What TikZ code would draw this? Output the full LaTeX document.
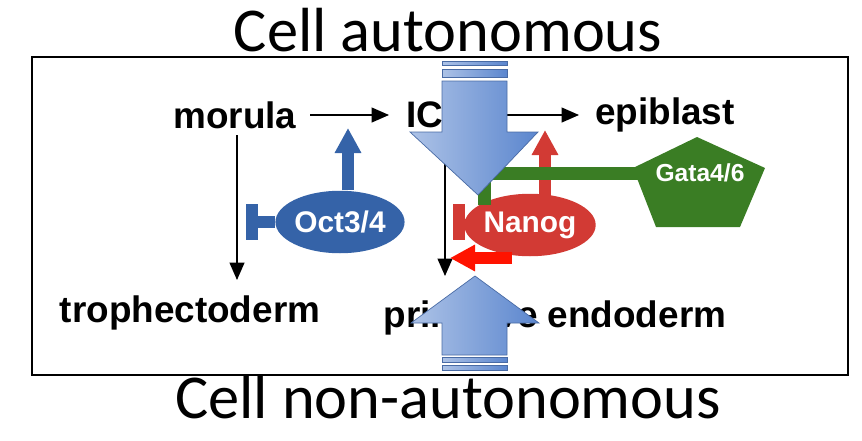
\documentclass[tikz,border=0pt]{standalone}
\usepackage{fontspec}
\setmainfont{Liberation Sans}
\newfontfamily\titlefont{Carlito}
\usetikzlibrary{arrows.meta, positioning, shapes.geometric}
\definecolor{OCTBLUE}{HTML}{3563A8}
\definecolor{NANRED}{HTML}{D23A34}
\definecolor{GATAGREEN}{HTML}{3A7D24}
\definecolor{ARRBLUE}{HTML}{5B86CE}

\begin{document}
\begin{tikzpicture}[x=0.02cm, y=-0.02cm,
    lab/.style={font=\fontsize{21}{24}\selectfont\bfseries, inner sep=0pt},
    title/.style={font=\titlefont\fontsize{35.5}{40}\selectfont, inner sep=0pt},
    tf/.style={ellipse, minimum width=2.3cm, minimum height=1.25cm, inner sep=0pt,
               text=white, font=\fontsize{17}{20}\selectfont\bfseries},
    arr/.style={-{Triangle[length=3.5mm, width=3mm]}, thick},
    fat/.style={-{Triangle[length=5mm, width=5mm]}, line width=2.4mm},
    bar/.style={line width=2.4mm},
    big/.style={draw=ARRBLUE!80!black, left color=ARRBLUE!50, right color=ARRBLUE, line width=0.4pt}
  ]
  \useasboundingbox (0,0) rectangle (862,440);
  \draw[line width=1.3pt] (32,57) rectangle (848,375);
  % stages
  \node[lab] (morula) at (235,115) {morula};
  \node[lab] (icm) at (440,115) {ICM};
  \node[lab] (epi) at (665,115) {epiblast};
  \node[lab] (tro) at (190,313) {trophectoderm};
  \node[lab] (pe) at (555,318) {primitive endoderm};
  \coordinate (m1) at (310,115);
  \coordinate (m2) at (389,115);
  \coordinate (i1) at (507,115);
  \coordinate (e1) at (579,115);
  \coordinate (m3) at (237,135);
  \coordinate (m4) at (237,280);
  \coordinate (i2) at (445,135);
  \coordinate (i3) at (445,276);
  \draw[arr] (m1) -- (m2);
  \draw[arr] (i1) -- (e1);
  \draw[arr] (m3) -- (m4);
  \draw[arr] (i2) -- (i3);
  % factors
  \node[tf, fill=OCTBLUE] (oct) at (340,222) {Oct3/4};
  \node[tf, fill=NANRED, minimum width=2.05cm] (nanog) at (530,225) {Nanog};
  \coordinate (o2) at (348,128);
  \coordinate (o3) at (252,222);
  \coordinate (n2) at (545,197);
  \coordinate (n3) at (545,130);
  \coordinate (n4) at (459,222);
  \coordinate (n5) at (512,258);
  \coordinate (n6) at (450,258);
  \draw[fat, OCTBLUE] (oct.north) ++(8,0) -- (o2);
  \draw[bar, OCTBLUE] (oct.west) -- (o3);
  \draw[bar, OCTBLUE] (o3) ++(0,-18) -- ++(0,36);
  \draw[fat, NANRED] (n2) -- (n3);
  \draw[bar, NANRED] (nanog.west) -- (n4);
  \draw[bar, NANRED] (n4) ++(0,-18) -- ++(0,36);
  \draw[fat, red!85!orange] (n5) -- (n6);
  \fill[GATAGREEN] (697,137) -- (765,168) -- (740,227) -- (656,227) -- (633,168) -- cycle;
  \coordinate (gata) at (698,175);
  \coordinate (g1) at (484,173);
  \coordinate (g2) at (484,205);
  \draw[GATAGREEN, line width=2.6mm] (gata |- g1) -- (g1) -- (g2);
  \node[font=\fontsize{14}{16}\selectfont\bfseries, text=white] (gatalab) at (700,173) {Gata4/6};
  % big arrows
  \draw[big] (442,81) -- (507,81) -- (507,132) -- (538,132) -- (478,195) -- (410,132) -- (442,132) -- cycle;
  \draw[big] (442,61) rectangle (507,65);
  \draw[big] (442,69) rectangle (507,77);
  \draw[big] (442,355) -- (507,355) -- (507,323) -- (539,323) -- (475,276) -- (411,323) -- (442,323) -- cycle;
  \draw[big] (442,357) rectangle (507,362);
  \draw[big] (442,365) rectangle (507,370);
  \node[title] (auto) at (448,30) {Cell autonomous};
  \node[title] (nonauto) at (448,397) {Cell non-autonomous};
\end{tikzpicture}
\end{document}
